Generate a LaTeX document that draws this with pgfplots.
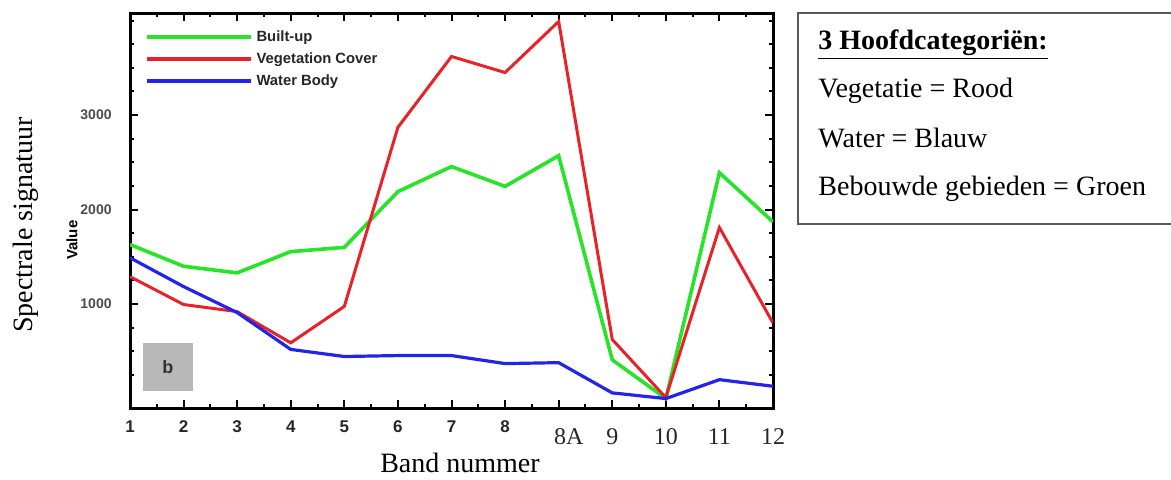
\documentclass[border=0pt]{standalone}
\usepackage{pgfplots}
\pgfplotsset{compat=1.18}
\usepackage{fontspec}
\setmainfont{Liberation Serif}
\setsansfont{Liberation Sans}
\definecolor{cgreen}{RGB}{40,228,40}
\definecolor{cred}{RGB}{232,34,40}
\definecolor{cblue}{RGB}{36,36,232}
\begin{document}
\begin{tikzpicture}
\useasboundingbox (-65pt,-35.5pt) rectangle (520.5pt,204pt);
\begin{axis}[
  at={(0,0)}, anchor=south west,
  width=321.5pt, height=197.5pt, scale only axis,
  xmin=1, xmax=13, ymin=-100, ymax=4080,
  axis line style={line width=1.5pt},
  tick align=inside,
  major tick length=3.8pt, minor tick length=2.2pt,
  every tick/.style={black, line width=1pt},
  xtick={1,2,3,4,5,6,7,8},
  xticklabels={1,2,3,4,5,6,7,8},
  minor xtick={1.5,2.5,3.5,4.5,5.5,6.5,7.5,8.5,9.5,10.5,11.5,12.5},
  extra x ticks={9,10,11,12,13},
  extra x tick labels={{\hspace*{10pt}8A},9,10,11,12},
  extra x tick style={xticklabel style={font=\rmfamily\fontsize{12}{12}\selectfont\mdseries, yshift=-4pt}},
  xticklabel style={font=\sffamily\bfseries\fontsize{8.5}{9}\selectfont, anchor=north, inner sep=0pt, yshift=-6pt, text=black!85},
  ytick={1000,2000,3000},
  minor ytick={250,500,750,1250,1500,1750,2250,2500,2750,3250,3500,3750,4000},
  yticklabel style={font=\sffamily\bfseries\fontsize{7}{7}\selectfont, text=black!70, anchor=east, inner sep=0pt, xshift=-9pt},
  /pgf/number format/assume math mode=true,
  /pgf/number format/set thousands separator={},
  ylabel={Value},
  ylabel style={at={(axis description cs:-0.09,0.425)}, anchor=center, font=\sffamily\bfseries\fontsize{7.5}{8}\selectfont},
  legend style={at={(axis description cs:0.022,0.967)}, anchor=north west, draw=none, fill=none, inner sep=0pt, row sep=0pt,
    font=\sffamily\bfseries\fontsize{7.4}{8}\selectfont, text=black!85,
    nodes={inner sep=2pt, text height=5.5pt, text depth=1.5pt}},
  legend cell align=left,
  legend image code/.code={\draw[#1, line width=2pt] (0pt,0pt) -- (52pt,0pt);},
]
\fill[black!28] (rel axis cs:0.0202,0.043) rectangle (rel axis cs:0.098,0.1646);
\node[font=\sffamily\bfseries\fontsize{9}{9}\selectfont, text=black!80] at (rel axis cs:0.059,0.104) {b};
\addplot[cgreen, line width=1.8pt] coordinates {
(1,1630) (2,1400) (3,1330) (4,1555) (5,1600) (6,2190) (7,2455) (8,2245) (9,2570) (10,410) (11,0) (12,2390) (13,1870)};
\addlegendentry{Built-up}
\addplot[cred, line width=1.5pt] coordinates {
(1,1290) (2,995) (3,920) (4,590) (5,975) (6,2870) (7,3620) (8,3450) (9,3990) (10,625) (11,10) (12,1810) (13,800)};
\addlegendentry{Vegetation Cover}
\addplot[cblue, line width=1.6pt] coordinates {
(1,1490) (2,1185) (3,910) (4,520) (5,445) (6,455) (7,455) (8,370) (9,380) (10,60) (11,0) (12,200) (13,130)};
\addlegendentry{Water Body}
\end{axis}
% outer labels
\node[rotate=90, font=\rmfamily\fontsize{14}{14}\selectfont, anchor=center] at (-52pt,91.5pt) {Spectrale signatuur};
\node[font=\rmfamily\fontsize{14}{14}\selectfont, anchor=base] at (165pt,-32pt) {Band nummer};
% info box
\draw[black!65, line width=1pt] (522pt,197.5pt) -- (334pt,197.5pt) -- (334pt,92pt) -- (522pt,92pt);
\begin{scope}[every node/.style={anchor=base west, inner sep=0pt, font=\rmfamily\fontsize{14}{14}\selectfont}]
\node at (344pt,179.5pt) {\bfseries\underline{3 Hoofdcategoriën:}};
\node at (344pt,155.5pt) {Vegetatie = Rood};
\node at (344pt,130.5pt) {Water = Blauw};
\node at (344pt,106.5pt) {Bebouwde gebieden = Groen};
\end{scope}
\end{tikzpicture}
\end{document}
